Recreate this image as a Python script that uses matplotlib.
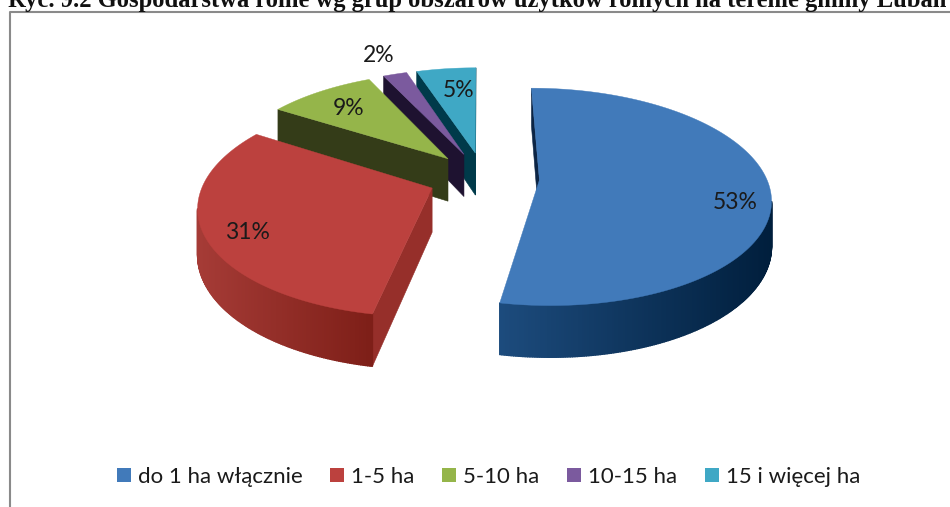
import numpy as np
import matplotlib
matplotlib.use('Agg')
import matplotlib.pyplot as plt
from matplotlib.patches import Patch

# dane
labels = ['do 1 ha włącznie', '1-5 ha', '5-10 ha', '10-15 ha', '15 i więcej ha']
values = [53, 31, 9, 2, 5]
title = 'Ryc. 9.2 Gospodarstwa rolne wg grup obszarów użytków rolnych na terenie gminy Lubań'

# kolory
top_colors = ['#417ABA', '#BC413E', '#95B54A', '#7B5A9E', '#3FA8C5']
wall_colors = ['#0C2545', '#962F2A', '#343C18', '#1E1230', '#003A4A']
rim_from = ['#1D4C7E', '#7E1F18', '#343C18', '#1E1230', '#003A4A']
rim_to = ['#001E3C', '#A53B36', '#343C18', '#1E1230', '#003A4A']

# perspektywa i rozsuniecie kawalkow
D = 6.43
C = 690.0
HOR = -506.0
VX = 480.0
SCALE = 229.0
DEPTH = 44.0
EXPLODE = 0.245
CENTER = (0.017, 0.06)
# etykiety: promien i polozenie w obrebie kawalka
label_r = [0.85, 0.835, 0.745, 1.27, 0.713]
label_frac = [0.545, 0.465, 0.47, 0.47, 0.617]


def project(X, Y, drop=0.0):
    s = D / (D + Y)
    return VX + s * SCALE * X, HOR + s * (C + drop)


def direction(a):
    return np.sin(np.radians(a)), np.cos(np.radians(a))


def mix(c1, c2, t):
    a = np.array(matplotlib.colors.to_rgb(c1))
    b = np.array(matplotlib.colors.to_rgb(c2))
    return tuple(a + (b - a) * t)


fig = plt.figure(figsize=(9.5, 5.07), dpi=100)
ax = fig.add_axes([0, 0, 1, 1])
ax.set_xlim(0, 950)
ax.set_ylim(507, 0)
ax.axis('off')

# ramka
ax.plot([9.5, 9.5, 951], [510, 11.5, 11.5], color='#8A8A8A', lw=1.5, zorder=1)
ax.text(8, 7.5, title, family='Liberation Serif', weight='bold', fontsize=17.7,
        ha='left', va='baseline', color='#111111', zorder=2)

edges = np.cumsum([0] + values) * 3.6
order = [4, 3, 2, 1, 0]
z = 3
for i in order:
    a0, a1 = edges[i], edges[i + 1]
    dx, dy = direction((a0 + a1) / 2)
    ax0 = CENTER[0] + EXPLODE * dx
    ay0 = CENTER[1] + EXPLODE * dy
    cam = np.array([0.0, -D])
    ang = np.linspace(a0, a1, int(a1 - a0) * 2 + 2)
    ox = ax0 + np.sin(np.radians(ang))
    oy = ay0 + np.cos(np.radians(ang))

    # sciany promieniowe
    for a, sign in ((a0, -90), (a1, 90)):
        n = direction(a + sign)
        ex, ey = direction(a)
        if n[0] * (cam[0] - ax0) + n[1] * (cam[1] - ay0) <= 0:
            continue
        xs = [project(ax0, ay0)[0], project(ax0 + ex, ay0 + ey)[0],
              project(ax0 + ex, ay0 + ey, DEPTH)[0], project(ax0, ay0, DEPTH)[0]]
        ys = [project(ax0, ay0)[1], project(ax0 + ex, ay0 + ey)[1],
              project(ax0 + ex, ay0 + ey, DEPTH)[1], project(ax0, ay0, DEPTH)[1]]
        ax.fill(xs, ys, color=wall_colors[i], lw=0.4, zorder=z)
        z += 1

    # sciana zewnetrzna z cieniowaniem
    for k in range(len(ang) - 1):
        nx, ny = direction((ang[k] + ang[k + 1]) / 2)
        if nx * (cam[0] - ox[k]) + ny * (cam[1] - oy[k]) <= 0:
            continue
        x1, y1 = project(ox[k], oy[k])
        x2, y2 = project(ox[k + 1], oy[k + 1])
        x3, y3 = project(ox[k + 1], oy[k + 1], DEPTH)
        x4, y4 = project(ox[k], oy[k], DEPTH)
        t = (x1 - 496) / 277.0 if i == 0 else 1 - (x1 - 200) / 170.0
        c = mix(rim_from[i], rim_to[i], float(np.clip(t, 0, 1)))
        ax.fill([x1, x2, x3, x4], [y1, y2, y3, y4], color=c, lw=1.0, zorder=z)
    z += 1

    # wierzch kawalka
    tx, ty = project(np.r_[ax0, ox], np.r_[ay0, oy])
    ax.fill(tx, ty, color=top_colors[i], lw=0.3, zorder=z)
    z += 1

    la = a0 + (a1 - a0) * label_frac[i]
    lx, ly = direction(la)
    px, py = project(ax0 + label_r[i] * lx, ay0 + label_r[i] * ly)
    ax.text(px, py, '%d%%' % values[i], family='Lato', fontsize=16.5, color='#1A1A1A',
            ha='center', va='center', zorder=40)

handles = [Patch(facecolor=c, edgecolor='none') for c in top_colors]
leg = ax.legend(handles, labels, loc='center', bbox_to_anchor=(488.5 / 950, 1 - 477 / 507),
                ncol=5, frameon=False, prop={'family': 'Lato', 'size': 16},
                handlelength=0.62, handleheight=0.62, handletextpad=0.32, columnspacing=1.25,
                labelcolor='#1A1A1A')
leg.set_zorder(50)

fig.savefig('out.png', dpi=100, facecolor='white')
